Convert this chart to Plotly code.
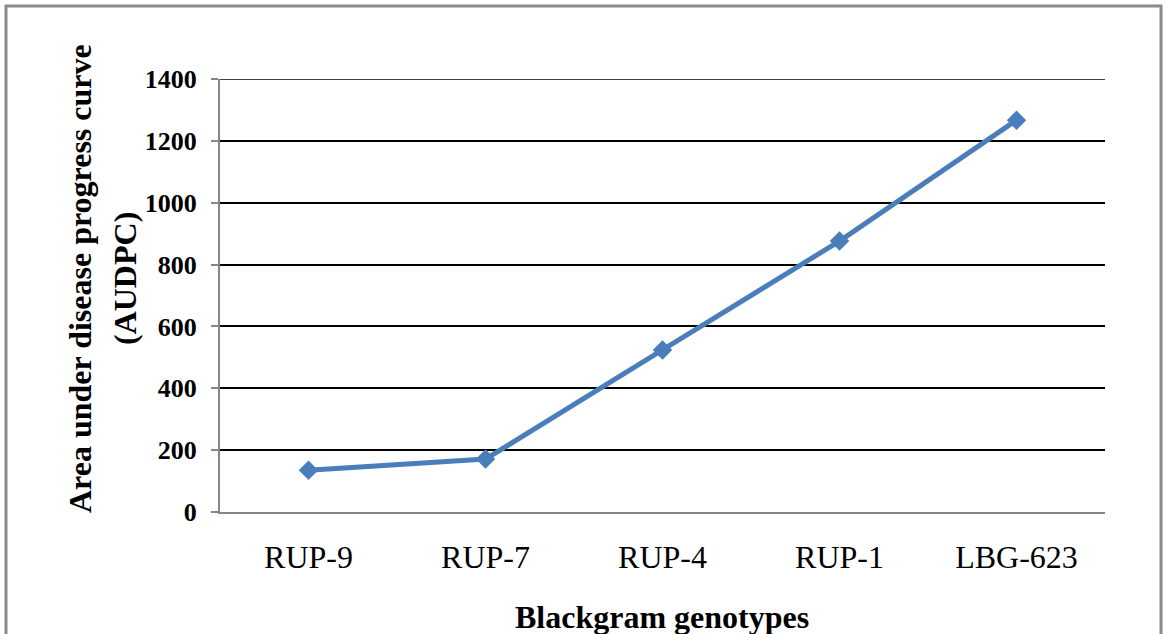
import plotly.graph_objects as go

# AUDPC per blackgram genotype
genotypes = ["RUP-9", "RUP-7", "RUP-4", "RUP-1", "LBG-623"]
audpc = [135, 171, 524, 876, 1267]
y_ticks = [0, 200, 400, 600, 800, 1000, 1200, 1400]

W, H = 1164, 634
L, R, T, B = 220, 59, 79, 122
pw, ph = W - L - R, H - T - B


def px_x(x):
    return (x - L) / pw


def px_y(y):
    return (H - B - y) / ph


fig = go.Figure()
fig.add_trace(go.Scatter(
    x=genotypes, y=audpc, mode="lines+markers",
    line=dict(color="#4a7ebb", width=5),
    marker=dict(symbol="diamond", size=15, color="#4a7ebb"),
    showlegend=False,
))

serif = "Liberation Serif, Times New Roman, serif"

fig.update_layout(
    width=W, height=H,
    margin=dict(l=L, r=R, t=T, b=B),
    paper_bgcolor="white", plot_bgcolor="white",
    font=dict(family=serif, color="black"),
    xaxis=dict(
        type="category", range=[-0.5, 4.5],
        showline=True, linecolor="#868686", linewidth=2,
        showgrid=False, ticks="outside", ticklen=16, tickcolor="rgba(0,0,0,0)",
        tickfont=dict(size=32, family=serif, color="black"),
    ),
    yaxis=dict(
        range=[0, 1400], tickvals=y_ticks,
        ticktext=[f"<b>{v}</b>" for v in y_ticks],
        showline=True, linecolor="#868686", linewidth=2,
        showgrid=True, gridcolor="black", gridwidth=1.5,
        ticks="outside", ticklen=7, tickcolor="#868686", tickwidth=2,
        ticklabelstandoff=9,
        tickfont=dict(size=26, family=serif, color="black"),
        zeroline=False,
    ),
    shapes=[
        dict(
            type="rect", xref="paper", yref="paper",
            x0=px_x(6), x1=px_x(1161), y0=px_y(645), y1=px_y(6),
            line=dict(color="#8a8a8a", width=3), fillcolor="rgba(0,0,0,0)",
            layer="below",
        ),
        # top gridline at the upper end of the value axis
        dict(
            type="line", xref="paper", yref="y",
            x0=0, x1=1, y0=y_ticks[-1], y1=y_ticks[-1],
            line=dict(color="black", width=1.5), layer="below",
        ),
    ],
    annotations=[
        dict(text="<b>Blackgram genotypes</b>", xref="paper", yref="paper",
             x=px_x(662), y=px_y(617), showarrow=False,
             font=dict(size=32, family=serif, color="black"),
             xanchor="center", yanchor="middle"),
        dict(text="<b>Area under disease progress curve</b>", xref="paper", yref="paper",
             x=px_x(80), y=px_y(279), showarrow=False, textangle=-90,
             font=dict(size=32, family=serif, color="black"),
             xanchor="center", yanchor="middle"),
        dict(text="<b>(AUDPC)</b>", xref="paper", yref="paper",
             x=px_x(125), y=px_y(279), showarrow=False, textangle=-90,
             font=dict(size=32, family=serif, color="black"),
             xanchor="center", yanchor="middle"),
    ],
)

fig.write_html("out.html")
